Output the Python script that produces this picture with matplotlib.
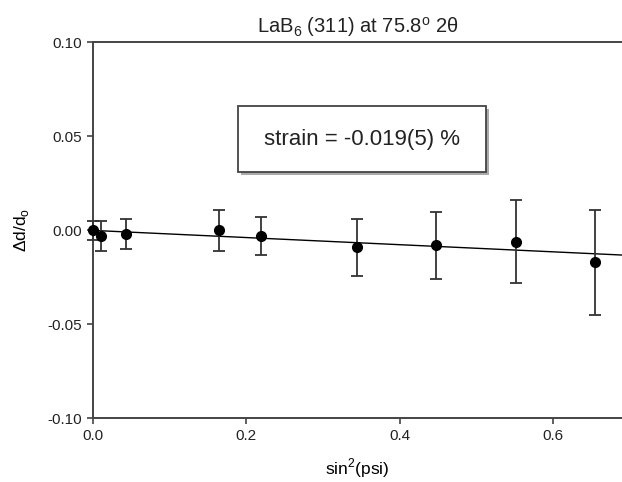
import numpy as np
import matplotlib

matplotlib.use("Agg")
import matplotlib.pyplot as plt
from matplotlib.patches import Rectangle

plt.rcParams["font.family"] = ["Liberation Sans", "DejaVu Sans"]

# sin^2(psi) positions and measured d-spacing shifts
sin2psi = [0.0, 0.011, 0.043, 0.165, 0.220, 0.345, 0.448, 0.552, 0.655]
dd = [0.000, -0.003, -0.002, 0.000, -0.003, -0.009, -0.008, -0.006, -0.017]
dd_err = [0.005, 0.008, 0.008, 0.011, 0.010, 0.015, 0.018, 0.022, 0.028]
fit_slope = -0.019
fit_intercept = 0.0
x_ticks = [0.0, 0.2, 0.4, 0.6]
y_ticks = [-0.10, -0.05, 0.00, 0.05, 0.10]

fig = plt.figure(figsize=(6.22, 4.82), dpi=100)
ax = fig.add_axes([0.149, 0.132, 0.851, 0.780])

xs = np.array([0.0, 0.69])
ax.plot(xs, fit_intercept + fit_slope * xs, color="black", lw=1.0, zorder=2)
ax.errorbar(sin2psi, dd, yerr=dd_err, fmt="o", color="black", ms=7,
            ecolor="#333333", elinewidth=1.3, capsize=4, capthick=1.3,
            zorder=3, clip_on=False)

ax.set_xlim(0, 0.69)
ax.set_ylim(-0.10, 0.10)
ax.set_xticks(x_ticks)
ax.set_xticklabels([f"{t:.1f}" for t in x_ticks])
ax.set_yticks(y_ticks)
ax.set_yticklabels([f"{t:.2f}" for t in y_ticks])
ax.tick_params(direction="out", length=4, width=1.2, color="#444444",
               labelsize=11, labelcolor="#222222")
ax.spines["right"].set_visible(False)
for s in ("left", "top", "bottom"):
    ax.spines[s].set_color("#444444")
    ax.spines[s].set_linewidth(1.4)

ax.set_xlabel("sin$^\\mathregular{2}$(psi)", fontsize=12.5, labelpad=10)
ax.set_ylabel("Δd/d$_\\mathregular{o}$", fontsize=12.5, labelpad=12)
ax.set_title("LaB$_\\mathregular{6}$ (311) at 75.8$^\\mathregular{o}$ 2θ",
             fontsize=14.5, pad=7, color="#222222")

# annotation box with a soft drop shadow
bx, by, bw, bh = 0.2745, 0.655, 0.4685, 0.176
ax.add_patch(Rectangle((bx + 0.005, by - 0.007), bw, bh, transform=ax.transAxes,
                       facecolor="#aaaaaa", edgecolor="none", zorder=4))
ax.add_patch(Rectangle((bx, by), bw, bh, transform=ax.transAxes,
                       facecolor="white", edgecolor="#444444", lw=1.3, zorder=5))
ax.text(bx + bw / 2, by + bh / 2, "strain = -0.019(5) %", transform=ax.transAxes,
        ha="center", va="center", fontsize=16, color="#222222", zorder=6)

fig.savefig("out.png", dpi=100)
